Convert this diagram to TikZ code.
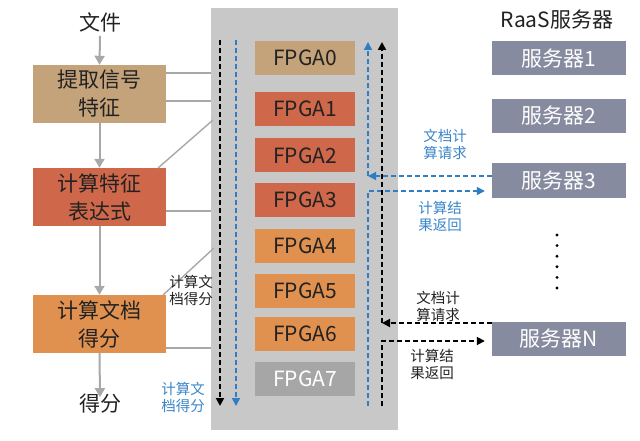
\documentclass[tikz,border=0pt]{standalone}
\usepackage{fontspec}
\setmainfont{Noto Sans CJK SC}
\usetikzlibrary{arrows.meta}
\definecolor{panelgray}{HTML}{C8C8C8}
\definecolor{tanc}{HTML}{C4A27A}
\definecolor{redc}{HTML}{CF674A}
\definecolor{orc}{HTML}{E1914F}
\definecolor{grayc}{HTML}{A6A6A6}
\definecolor{servc}{HTML}{868B9F}
\definecolor{flowgray}{HTML}{A8A8A8}
\definecolor{bluec}{HTML}{2F7DC2}
\definecolor{bluetxt}{HTML}{3A86C8}
\definecolor{txt}{HTML}{222222}
\begin{document}
\begin{tikzpicture}[x=1pt,y=-1pt,
  box/.style={minimum width=133pt, minimum height=58pt, inner sep=0pt, align=center,
    font=\fontsize{21}{28}\selectfont, text=txt},
  fpga/.style={minimum width=100pt, minimum height=34pt, inner sep=0pt,
    font=\fontsize{21}{24}\selectfont, text=txt},
  server/.style={fill=servc, minimum width=134pt, minimum height=34pt, inner sep=0pt,
    text=white, font=\fontsize{21}{24}\selectfont},
  bigtxt/.style={font=\fontsize{21}{24}\selectfont, text=txt, inner sep=0pt},
  flow/.style={draw=flowgray, line width=2pt, -{Triangle[length=9pt,width=10pt]}},
  link/.style={draw=flowgray, line width=1.4pt},
  bdash/.style={draw=black, line width=1.8pt, dash pattern=on 5pt off 3pt},
  udash/.style={draw=bluec, line width=1.5pt, dash pattern=on 5pt off 3pt},
  tip/.style={-{Triangle[length=8pt,width=8pt]}},
  lbl/.style={font=\fontsize{14.5}{17}\selectfont, align=center, inner sep=0pt, text=txt},
  blbl/.style={lbl, text=bluetxt}
]
\useasboundingbox[fill=white] (0,0) rectangle (640,441);

% panel
\node[fill=panelgray, minimum width=187pt, minimum height=422pt, inner sep=0pt] (panel) at (304.5,219) {};

% FPGAs
\node[fpga, fill=tanc] (f0) at (305,58) {FPGA0};
\node[fpga, fill=redc] (f1) at (305,109) {FPGA1};
\node[fpga, fill=redc] (f2) at (305,155.5) {FPGA2};
\node[fpga, fill=redc] (f3) at (305,200) {FPGA3};
\node[fpga, fill=orc] (f4) at (305,245.5) {FPGA4};
\node[fpga, fill=orc] (f5) at (305,290.5) {FPGA5};
\node[fpga, fill=orc] (f6) at (305,334) {FPGA6};
\node[fpga, fill=grayc, text=white] (f7) at (305,378.5) {FPGA7};

% left flow
\node[bigtxt] (file) at (100,22) {文件};
\node[box, fill=tanc] (b1) at (99.5,94) {提取信号\\特征};
\node[box, fill=redc] (b2) at (99.5,197) {计算特征\\表达式};
\node[box, fill=orc] (b3) at (99.5,324) {计算文档\\得分};
\node[bigtxt] (score) at (100,404) {得分};

\draw[flow] (file.south) ++(0,4) -- (b1.north);
\draw[flow] (b1.south) -- (b2.north);
\draw[flow] (b2.south) -- (b3.north);
\draw[flow] (b3.south) -- ([yshift=-3pt]score.north);

% gray links to panel
\coordinate (p1) at (211,73);
\coordinate (p2) at (211,101);
\coordinate (p3) at (213,120);
\coordinate (d1) at (158,168);
\coordinate (p4) at (211,211);
\coordinate (p5) at (214,248);
\coordinate (d2) at (163,295);
\coordinate (p6) at (211,348);
\draw[link] (b1.east |- p1) -- (p1);
\draw[link] (b1.east |- p2) -- (p2);
\draw[link] (d1) -- (p3);
\draw[link] (b2.east |- p4) -- (p4);
\draw[link] (d2) -- (p5);
\draw[link] (b3.east |- p6) -- (p6);

% left dashed downward
\coordinate (lt1) at (220,40);
\coordinate (lb1) at (220,406);
\coordinate (lt2) at (236,40);
\coordinate (lb2) at (236,406);
\draw[bdash, tip] (lt1) -- (lb1);
\draw[udash, tip] (lt2) -- (lb2);

\node[lbl] (lab1) at (191,290) {计算文\\档得分};
\node[blbl] (lab2) at (183,397) {计算文\\档得分};

% servers
\node[bigtxt] (raas) at (557,20) {RaaS服务器};
\node[server] (s1) at (559,58.5) {服务器1};
\node[server] (s2) at (559,116) {服务器2};
\node[server] (s3) at (559,180.5) {服务器3};
\node[server] (sn) at (559,339) {服务器N};
\foreach \i in {0,...,5} \fill (557,{235+10.6*\i}) circle (1.6pt);

% right blue path
\coordinate (rt1) at (368,42);
\coordinate (rq1) at (368,176);
\coordinate (rr1) at (368,191);
\coordinate (rb1) at (368,406);
\draw[udash, tip] (s3.west |- rq1) -- (rq1);
\draw[udash, tip] (rq1) -- (rt1);
\draw[udash, tip] (rb1) -- (rr1) -- ([xshift=-7pt]s3.west |- rr1);

% right black path
\coordinate (rt2) at (382,42);
\coordinate (rq2) at (382,323);
\coordinate (rr2) at (382,341);
\coordinate (rb2) at (382,406);
\draw[bdash, tip] (sn.west |- rq2) -- (rq2);
\draw[bdash, tip] (rq2) -- (rt2);
\draw[bdash, tip] (rb2) -- (rr2) -- ([xshift=-7pt]sn.west |- rr2);

\node[blbl] (lab3) at (445,144) {文档计\\算请求};
\node[blbl] (lab4) at (440,216) {计算结\\果返回};
\node[lbl] (lab5) at (438,306) {文档计\\算请求};
\node[lbl] (lab6) at (432,364) {计算结\\果返回};
\end{tikzpicture}
\end{document}
